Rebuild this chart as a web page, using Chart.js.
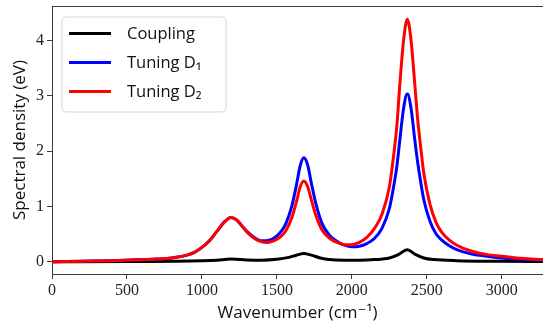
<!DOCTYPE html>
<html>
<head>
<meta charset="utf-8">
<script src="https://cdn.jsdelivr.net/npm/chart.js@4.4.1/dist/chart.umd.min.js"></script>
<style>
  html, body { margin: 0; padding: 0; background: #fff; }
  #wrap { position: relative; width: 543px; height: 324px; }
</style>
</head>
<body>
<div id="wrap"><canvas id="c" width="543" height="324"></canvas></div>
<script>
// Spectral density samples (wavenumber in cm^-1, density in eV)
const couplingX = [0, 500, 1000, 1100, 1193, 1300, 1400, 1500, 1580, 1630, 1680, 1730, 1790, 1850, 1950, 2050, 2150, 2250, 2310, 2370, 2420, 2480, 2550, 2700, 3000, 3275];
const couplingY = [0.0, 0.005, 0.02, 0.03, 0.05, 0.035, 0.03, 0.045, 0.08, 0.12, 0.15, 0.12, 0.07, 0.04, 0.03, 0.03, 0.04, 0.07, 0.13, 0.22, 0.14, 0.07, 0.04, 0.02, 0.01, 0.005];

const tuning1X = [0, 200, 400, 600, 700, 800, 900, 950, 1000, 1050, 1100, 1150, 1193, 1230, 1270, 1300, 1350, 1400, 1430, 1470, 1520, 1560, 1600, 1630, 1655, 1680, 1705, 1730, 1760, 1800, 1850, 1900, 1950, 2000, 2050, 2100, 2150, 2200, 2250, 2280, 2300, 2320, 2345, 2370, 2395, 2420, 2440, 2460, 2480, 2520, 2560, 2600, 2650, 2700, 2800, 2900, 3000, 3100, 3200, 3275];
const tuning1Y = [0.0, 0.01, 0.02, 0.04, 0.05, 0.07, 0.12, 0.17, 0.26, 0.38, 0.55, 0.72, 0.80, 0.76, 0.64, 0.55, 0.44, 0.38, 0.38, 0.41, 0.52, 0.69, 1.01, 1.38, 1.73, 1.88, 1.75, 1.42, 1.05, 0.70, 0.48, 0.37, 0.30, 0.27, 0.28, 0.33, 0.42, 0.60, 0.96, 1.38, 1.72, 2.20, 2.77, 3.03, 2.77, 2.20, 1.78, 1.43, 1.12, 0.74, 0.51, 0.39, 0.29, 0.22, 0.14, 0.10, 0.07, 0.05, 0.04, 0.03];

const tuning2X = [0, 200, 400, 600, 700, 800, 900, 950, 1000, 1050, 1100, 1150, 1193, 1230, 1270, 1300, 1350, 1400, 1430, 1470, 1520, 1560, 1600, 1630, 1655, 1680, 1705, 1730, 1760, 1800, 1850, 1900, 1950, 2000, 2050, 2100, 2150, 2200, 2250, 2280, 2300, 2320, 2345, 2370, 2395, 2420, 2440, 2460, 2480, 2520, 2560, 2600, 2650, 2700, 2800, 2900, 3000, 3100, 3200, 3275];
const tuning2Y = [0.0, 0.01, 0.02, 0.04, 0.05, 0.07, 0.12, 0.17, 0.26, 0.38, 0.55, 0.72, 0.80, 0.76, 0.64, 0.54, 0.42, 0.36, 0.35, 0.37, 0.44, 0.56, 0.80, 1.08, 1.35, 1.46, 1.36, 1.12, 0.84, 0.58, 0.43, 0.35, 0.31, 0.31, 0.35, 0.44, 0.60, 0.85, 1.35, 1.95, 2.45, 3.20, 4.00, 4.38, 4.00, 3.20, 2.55, 2.05, 1.60, 1.05, 0.72, 0.53, 0.39, 0.30, 0.19, 0.13, 0.10, 0.07, 0.05, 0.04];

const xTicks = [0, 500, 1000, 1500, 2000, 2500, 3000];
const yTicks = [0, 1, 2, 3, 4];

const seriesNames = ['Coupling', 'Tuning D\u2081', 'Tuning D\u2082'];
const seriesColors = ['#000000', '#0000ff', '#ff0000'];

function pts(xs, ys) { return xs.map((x, i) => ({ x: x, y: ys[i] })); }

const serif = '"Liberation Serif", "DejaVu Serif", serif';
const sans = '"Open Sans", "DejaVu Sans", sans-serif';
const axisColor = '#3a3a3a';

// Legend box drawn inside the plotting area, plus the top frame line
const framePlugin = {
  id: 'frameAndLegend',
  afterDraw(chart) {
    const ctx = chart.ctx;
    const a = chart.chartArea;
    ctx.save();
    ctx.strokeStyle = axisColor;
    ctx.lineWidth = 1;
    ctx.beginPath();
    ctx.moveTo(a.left, a.top + 0.5);
    ctx.lineTo(a.right, a.top + 0.5);
    ctx.stroke();

    const bx = a.left + 10, by = a.top + 11, bw = 164, bh = 95, r = 4;
    ctx.beginPath();
    ctx.moveTo(bx + r, by);
    ctx.lineTo(bx + bw - r, by);
    ctx.quadraticCurveTo(bx + bw, by, bx + bw, by + r);
    ctx.lineTo(bx + bw, by + bh - r);
    ctx.quadraticCurveTo(bx + bw, by + bh, bx + bw - r, by + bh);
    ctx.lineTo(bx + r, by + bh);
    ctx.quadraticCurveTo(bx, by + bh, bx, by + bh - r);
    ctx.lineTo(bx, by + r);
    ctx.quadraticCurveTo(bx, by, bx + r, by);
    ctx.closePath();
    ctx.fillStyle = 'rgba(255,255,255,0.85)';
    ctx.fill();
    ctx.strokeStyle = '#d6d6d6';
    ctx.lineWidth = 1;
    ctx.stroke();

    ctx.font = '16.5px ' + sans;
    ctx.textBaseline = 'middle';
    ctx.textAlign = 'left';
    for (let i = 0; i < seriesNames.length; i++) {
      const yy = by + 16.5 + i * 29;
      ctx.strokeStyle = seriesColors[i];
      ctx.lineWidth = 3;
      ctx.beginPath();
      ctx.moveTo(bx + 7, yy);
      ctx.lineTo(bx + 49, yy);
      ctx.stroke();
      ctx.fillStyle = '#111';
      ctx.fillText(seriesNames[i], bx + 65, yy + 1);
    }
    ctx.restore();
  }
};

new Chart(document.getElementById('c'), {
  type: 'line',
  data: {
    datasets: [
      // lower order is painted on top: red over blue over black
      { label: seriesNames[0], data: pts(couplingX, couplingY), borderColor: seriesColors[0], order: 2 },
      { label: seriesNames[1], data: pts(tuning1X, tuning1Y), borderColor: seriesColors[1], order: 1 },
      { label: seriesNames[2], data: pts(tuning2X, tuning2Y), borderColor: seriesColors[2], order: 0 }
    ].map(d => Object.assign(d, {
      borderWidth: 3, pointRadius: 0, fill: false,
      cubicInterpolationMode: 'monotone', borderCapStyle: 'round', borderJoinStyle: 'round'
    }))
  },
  options: {
    responsive: false,
    animation: false,
    layout: { padding: { top: 6, right: 0, left: 0, bottom: 0 } },
    plugins: { legend: { display: false }, tooltip: { enabled: false } },
    scales: {
      x: {
        type: 'linear', min: 0, max: 3275,
        afterBuildTicks(s) { s.ticks = xTicks.map(v => ({ value: v })); },
        afterFit(s) { s.height = 50; s.paddingLeft = 0; s.paddingRight = 0; },
        grid: { drawOnChartArea: false, drawTicks: true, tickLength: 5, color: axisColor },
        border: { color: axisColor, width: 1 },
        ticks: { color: '#222', font: { family: serif, size: 16 }, padding: 2, maxRotation: 0, autoSkip: false, callback: v => String(v) },
        title: { display: true, text: 'Wavenumber (cm\u207B\u00B9)', color: '#111', font: { family: sans, size: 17 }, padding: { top: 0, bottom: 1 } }
      },
      y: {
        type: 'linear', min: -0.22, max: 4.62,
        afterBuildTicks(s) { s.ticks = yTicks.map(v => ({ value: v })); },
        afterFit(s) { s.width = 52; s.paddingTop = 0; s.paddingBottom = 0; },
        grid: { drawOnChartArea: false, drawTicks: true, tickLength: 5, color: axisColor },
        border: { color: axisColor, width: 1 },
        ticks: { color: '#222', font: { family: serif, size: 16 }, padding: 3, callback: v => String(v) },
        title: { display: true, text: 'Spectral density (eV)', color: '#111', font: { family: sans, size: 17 }, padding: { top: 10, bottom: 0 } }
      }
    }
  },
  plugins: [framePlugin]
});
</script>
</body>
</html>
